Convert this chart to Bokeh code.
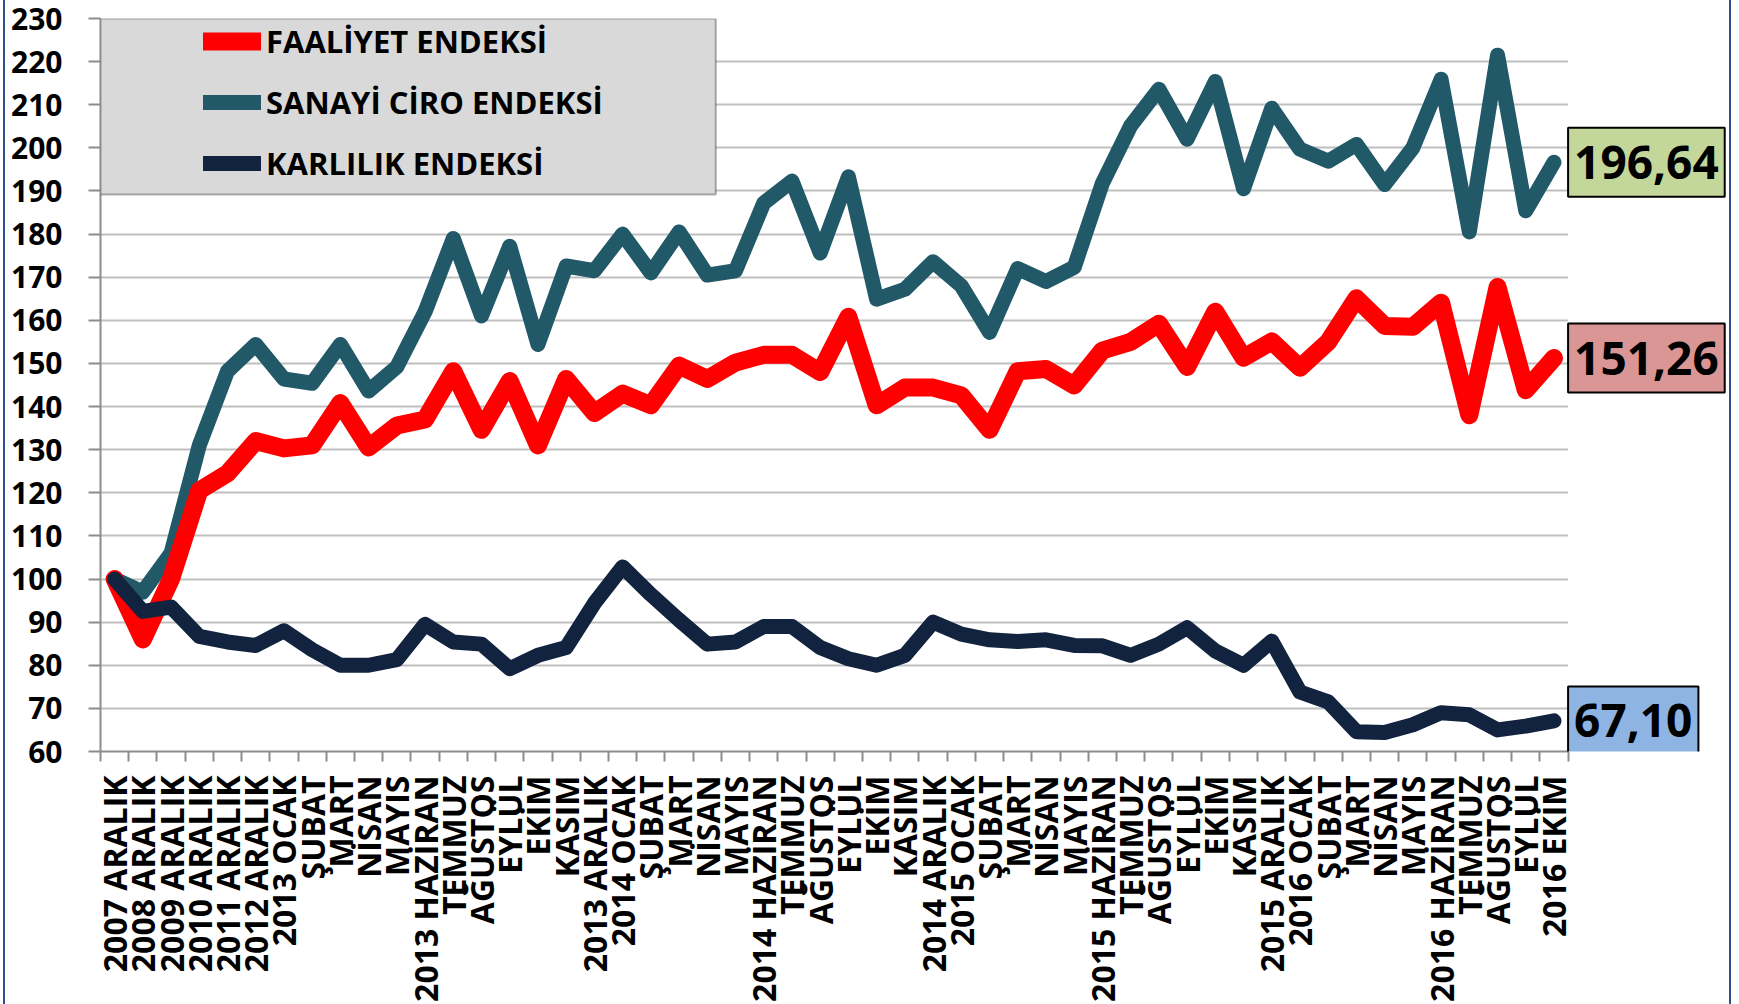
import math
from bokeh.plotting import figure
from bokeh.models import Range1d, FixedTicker, Legend, LegendItem, BoxAnnotation, Label
from bokeh.embed import file_html
from bokeh.resources import INLINE

categories = [
    "2007 ARALIK", "2008 ARALIK", "2009 ARALIK", "2010 ARALIK", "2011 ARALIK", "2012 ARALIK",
    "2013 OCAK", "ŞUBAT", "MART", "NİSAN", "MAYIS", "2013 HAZİRAN", "TEMMUZ", "AĞUSTOS",
    "EYLÜL", "EKİM", "KASIM", "2013 ARALIK", "2014 OCAK", "ŞUBAT", "MART", "NİSAN", "MAYIS",
    "2014 HAZİRAN", "TEMMUZ", "AĞUSTOS", "EYLÜL", "EKİM", "KASIM", "2014 ARALIK", "2015 OCAK",
    "ŞUBAT", "MART", "NİSAN", "MAYIS", "2015 HAZİRAN", "TEMMUZ", "AĞUSTOS", "EYLÜL", "EKİM",
    "KASIM", "2015 ARALIK", "2016 OCAK", "ŞUBAT", "MART", "NİSAN", "MAYIS", "2016 HAZİRAN",
    "TEMMUZ", "AĞUSTOS", "EYLÜL", "2016 EKİM",
]

faaliyet = [100, 86, 100, 120.5, 124.5, 132, 130.3, 131, 140.8, 130.5, 135.6, 137, 148.2,
            134.6, 145.9, 131, 146.4, 138.5, 143, 140.3, 149.5, 146.4, 150.2, 152, 152, 148,
            160.8, 140.3, 144.4, 144.4, 142.6, 134.6, 148.2, 148.7, 144.9, 153, 155, 159.2,
            149.2, 162, 151.3, 155.1, 149, 155, 165.1, 158.7, 158.5, 164.1, 138, 167.7, 143.8,
            151.26]

sanayi_ciro = [100, 97, 106, 131, 148.2, 154.4, 146.4, 145.4, 154.4, 143.6, 149.2, 162, 179,
               161, 177.2, 154.4, 172.6, 171.5, 180, 171, 180.5, 170.5, 171.5, 187.2, 192.3,
               175.6, 193.3, 164.9, 167.2, 173.6, 168, 157.2, 172, 169, 172.3, 191.8, 205.1,
               213.6, 202, 215.4, 190.5, 209.2, 199.7, 196.9, 200.8, 191.5, 200, 215.9, 180.5,
               221.5, 185.4, 196.64]

karlilik = [100, 92.5, 93.5, 86.7, 85.4, 84.6, 88, 83.6, 80, 80, 81.3, 89.5, 85.4, 84.9, 79.2,
            82.3, 84.1, 94.4, 102.8, 96.4, 90.5, 84.9, 85.4, 89, 89, 84.1, 81.5, 80, 82.3, 90,
            87.2, 85.9, 85.5, 85.9, 84.6, 84.5, 82.3, 84.9, 88.7, 83.3, 80, 85.6, 73.8, 71.5,
            64.6, 64.4, 66.2, 69, 68.5, 65, 65.9, 67.10]

series_names = ["FAALİYET ENDEKSİ", "SANAYİ CİRO ENDEKSİ", "KARLILIK ENDEKSİ"]
y_ticks = list(range(60, 231, 10))

RED = "#FF0000"
TEAL = "#215968"
NAVY = "#12233F"
GRID = "#BFBFBF"
AXIS = "#8C8C8C"
FONT = "Open Sans"

n = len(categories)
xs = list(range(n))
x_start = -0.5
x_data_end = n - 0.5
x_end = x_data_end + 5.79   # room at the right for the end-value boxes

p = figure(width=1728, height=1004, output_backend="svg", toolbar_location=None,
           x_range=Range1d(x_start, x_end), y_range=Range1d(60, 230),
           min_border_left=95, min_border_right=2, min_border_top=18, min_border_bottom=252)
p.outline_line_color = None
p.background_fill_color = "white"
p.border_fill_color = "white"
p.styles = {"margin-left": "3px",
            "border-left": "2px solid #2F4F8F", "border-right": "2px solid #2F4F8F"}

# axes
xa = p.xaxis[0]
xa.bounds = (x_start, x_data_end)
xa.ticker = FixedTicker(ticks=xs, minor_ticks=[i - 0.5 for i in range(n + 1)])
xa.major_label_overrides = {i: c for i, c in enumerate(categories)}
xa.major_label_orientation = math.pi / 2
xa.major_tick_line_color = None
xa.major_tick_out = 10
xa.major_tick_in = 0
xa.minor_tick_out = 10
xa.minor_tick_in = 0
xa.minor_tick_line_color = AXIS
xa.minor_tick_line_width = 2
xa.axis_line_color = AXIS
xa.axis_line_width = 2
xa.major_label_standoff = 14
xa.major_label_text_font = FONT
xa.major_label_text_font_style = "bold"
xa.major_label_text_font_size = "32px"
xa.major_label_text_color = "black"

ya = p.yaxis[0]
ya.ticker = FixedTicker(ticks=y_ticks)
ya.major_tick_out = 12
ya.major_tick_in = 0
ya.major_tick_line_color = AXIS
ya.major_tick_line_width = 2
ya.minor_tick_line_color = None
ya.axis_line_color = AXIS
ya.axis_line_width = 2
ya.major_label_standoff = 26
ya.major_label_text_font = FONT
ya.major_label_text_font_style = "bold"
ya.major_label_text_font_size = "30px"
ya.major_label_text_color = "black"

p.xgrid.grid_line_color = None
p.ygrid.ticker = FixedTicker(ticks=y_ticks)
p.ygrid.grid_line_color = GRID
p.ygrid.grid_line_width = 2

# lines
r_teal = p.line(xs, sanayi_ciro, line_color=TEAL, line_width=15, line_join="round", line_cap="round")
r_red = p.line(xs, faaliyet, line_color=RED, line_width=18, line_join="round", line_cap="round")
r_navy = p.line(xs, karlilik, line_color=NAVY, line_width=15, line_join="round", line_cap="round")

# white area at the right of the plot (gridlines stop at the last category)
cover = BoxAnnotation(left=x_data_end, right=x_end, top=231, bottom=59,
                      fill_color="white", fill_alpha=1.0, line_color=None)
p.add_layout(cover)

# legend background box
box = BoxAnnotation(left=x_start, right=21.3, top=230, bottom=189.2,
                    fill_color="#D9D9D9", fill_alpha=1.0, line_color="black", line_width=2)
p.add_layout(box)

legend = Legend(items=[LegendItem(label=series_names[0], renderers=[r_red]),
                       LegendItem(label=series_names[1], renderers=[r_teal]),
                       LegendItem(label=series_names[2], renderers=[r_navy])],
                location=(103, 566), padding=0, spacing=17, margin=0,
                glyph_width=58, glyph_height=44, label_height=44, label_standoff=5,
                background_fill_alpha=0, border_line_color=None,
                label_text_font=FONT, label_text_font_style="bold",
                label_text_font_size="31px", label_text_color="black")
p.add_layout(legend)

# end-value labels
def fmt(v):
    return f"{v:.2f}".replace(".", ",")

for vals, bg in [(sanayi_ciro, "#C4D79B"), (faaliyet, "#DA9694"), (karlilik, "#8DB4E2")]:
    lab = Label(x=x_data_end, y=vals[-1], text=fmt(vals[-1]), text_align="left",
                text_baseline="middle", text_font=FONT, text_font_style="bold",
                text_font_size="46px", text_color="black", background_fill_color=bg,
                background_fill_alpha=1.0, border_line_color="black", border_line_width=2,
                padding=(6, 18))
    p.add_layout(lab)

open("out.html", "w").write(file_html(p, INLINE))
